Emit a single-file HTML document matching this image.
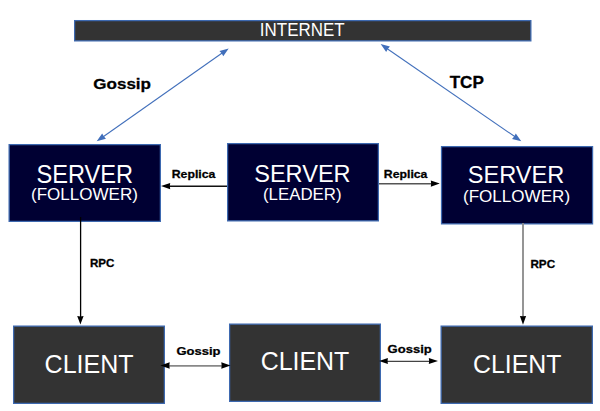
<!DOCTYPE html>
<html><head><meta charset="utf-8"><style>
html,body{margin:0;padding:0;background:#fff;width:600px;height:411px;overflow:hidden}
svg{display:block}
text{font-family:"Liberation Sans",sans-serif}
</style></head><body>
<svg width="600" height="411" viewBox="0 0 600 411">
<rect width="600" height="411" fill="#fff"/>
<rect x="74.62" y="20.62" width="456.25" height="20.25" fill="#333333" stroke="#3d69b0" stroke-width="1.25"/>
<rect x="9.12" y="144.62" width="151.25" height="76.75" fill="#000033" stroke="#3d69b0" stroke-width="1.25"/>
<rect x="227.62" y="143.62" width="150.75" height="77.25" fill="#000033" stroke="#3d69b0" stroke-width="1.25"/>
<rect x="441.52" y="146.62" width="151.05" height="77.25" fill="#000033" stroke="#3d69b0" stroke-width="1.25"/>
<rect x="13.62" y="326.12" width="150.75" height="77.25" fill="#333333" stroke="#3d69b0" stroke-width="1.25"/>
<rect x="229.62" y="324.12" width="150.75" height="77.25" fill="#333333" stroke="#3d69b0" stroke-width="1.25"/>
<rect x="441.12" y="326.12" width="151.25" height="77.25" fill="#333333" stroke="#3d69b0" stroke-width="1.25"/>
<line x1="100" y1="139" x2="225" y2="51" stroke="#416fbb" stroke-width="1.05"/>
<polygon points="228.70,48.40 223.24,56.28 221.63,53.37 219.44,50.88" fill="#416fbb"/>
<polygon points="96.70,141.30 102.16,133.42 103.77,136.33 105.96,138.82" fill="#416fbb"/>
<line x1="384" y1="46.5" x2="518" y2="138.8" stroke="#416fbb" stroke-width="1.05"/>
<polygon points="380.65,44.10 389.93,46.50 387.76,49.01 386.18,51.93" fill="#416fbb"/>
<polygon points="521.30,141.30 512.02,138.90 514.19,136.39 515.77,133.47" fill="#416fbb"/>
<line x1="166" y1="186.25" x2="227" y2="186.25" stroke="#111" stroke-width="1.4"/>
<polygon points="161.00,186.10 170.20,182.90 169.83,186.10 170.20,189.30" fill="#000"/>
<line x1="379" y1="183.8" x2="434" y2="183.8" stroke="#555" stroke-width="1.5"/>
<polygon points="439.80,183.60 430.80,186.80 431.16,183.60 430.80,180.40" fill="#000"/>
<line x1="80.6" y1="217" x2="80.6" y2="320" stroke="#000" stroke-width="1.3"/>
<polygon points="80.40,324.60 77.20,316.10 80.40,316.44 83.60,316.10" fill="#000"/>
<line x1="523" y1="223" x2="523" y2="320" stroke="#8a8a8a" stroke-width="1.8"/>
<polygon points="523.00,324.80 519.90,316.00 523.00,316.35 526.10,316.00" fill="#000"/>
<line x1="166" y1="365.8" x2="225" y2="365.8" stroke="#888" stroke-width="1.8"/>
<polygon points="160.40,365.45 169.70,362.25 169.33,365.45 169.70,368.65" fill="#000"/>
<polygon points="230.60,365.45 221.30,368.65 221.67,365.45 221.30,362.25" fill="#000"/>
<line x1="384" y1="361.3" x2="433" y2="361.3" stroke="#444" stroke-width="1.3"/>
<polygon points="379.00,361.00 387.90,358.00 387.54,361.00 387.90,364.00" fill="#000"/>
<polygon points="438.00,361.00 428.80,364.00 429.17,361.00 428.80,358.00" fill="#000"/>
<text transform="matrix(0.16953 0 0 0.19275 259.87 36.20)" font-size="100" font-weight="normal" fill="#fff">INTERNET</text>
<text transform="matrix(0.23584 0 0 0.25915 36.52 182.84)" font-size="100" font-weight="normal" fill="#fff">SERVER</text>
<text transform="matrix(0.17045 0 0 0.17021 30.98 200.23)" font-size="100" font-weight="normal" fill="#fff">(FOLLOWER)</text>
<text transform="matrix(0.23559 0 0 0.24507 254.22 182.15)" font-size="100" font-weight="normal" fill="#fff">SERVER</text>
<text transform="matrix(0.16835 0 0 0.15957 262.99 199.65)" font-size="100" font-weight="normal" fill="#fff">(LEADER)</text>
<text transform="matrix(0.23584 0 0 0.23944 467.82 183.46)" font-size="100" font-weight="normal" fill="#fff">SERVER</text>
<text transform="matrix(0.17078 0 0 0.16383 462.98 202.16)" font-size="100" font-weight="normal" fill="#fff">(FOLLOWER)</text>
<text transform="matrix(0.25043 0 0 0.25634 44.60 372.84)" font-size="100" font-weight="normal" fill="#fff">CLIENT</text>
<text transform="matrix(0.24914 0 0 0.25070 260.65 369.95)" font-size="100" font-weight="normal" fill="#fff">CLIENT</text>
<text transform="matrix(0.24856 0 0 0.25634 473.06 372.74)" font-size="100" font-weight="normal" fill="#fff">CLIENT</text>
<text transform="matrix(0.17069 0 0 0.15426 93.22 89.26)" font-size="100" font-weight="bold" fill="#000" stroke="#000" stroke-width="1.76">Gossip</text>
<text transform="matrix(0.17128 0 0 0.16197 449.63 87.84)" font-size="100" font-weight="bold" fill="#000" stroke="#000" stroke-width="1.75">TCP</text>
<text transform="matrix(0.12292 0 0 0.10638 171.74 177.97)" font-size="100" font-weight="bold" fill="#000" stroke="#000" stroke-width="2.44">Replica</text>
<text transform="matrix(0.12264 0 0 0.10851 383.84 177.82)" font-size="100" font-weight="bold" fill="#000" stroke="#000" stroke-width="2.45">Replica</text>
<text transform="matrix(0.11592 0 0 0.10000 89.89 266.60)" font-size="100" font-weight="bold" fill="#000" stroke="#000" stroke-width="2.59">RPC</text>
<text transform="matrix(0.11716 0 0 0.10845 530.43 268.19)" font-size="100" font-weight="bold" fill="#000" stroke="#000" stroke-width="2.56">RPC</text>
<text transform="matrix(0.13021 0 0 0.10638 176.38 355.27)" font-size="100" font-weight="bold" fill="#000" stroke="#000" stroke-width="2.30">Gossip</text>
<text transform="matrix(0.13036 0 0 0.11170 387.58 353.15)" font-size="100" font-weight="bold" fill="#000" stroke="#000" stroke-width="2.30">Gossip</text>
</svg>
</body></html>
